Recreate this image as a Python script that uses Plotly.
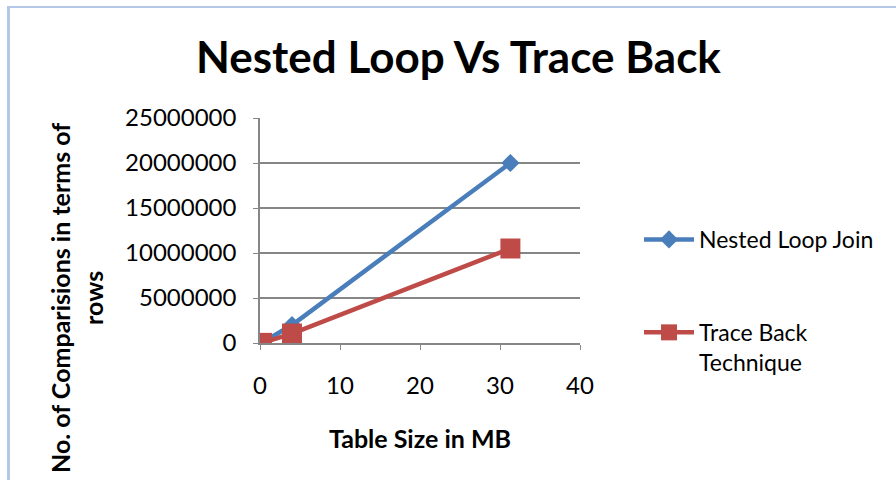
import plotly.graph_objects as go

table_size_mb = [0.25, 4, 31.3]
nested_loop = [30000, 2000000, 20000000]
trace_back = [15000, 1050000, 10500000]

x_ticks = [0, 10, 20, 30, 40]
y_ticks = [0, 5000000, 10000000, 15000000, 20000000, 25000000]
y_tick_labels = ["0", "5000000", "10000000", "15000000", "20000000", "25000000"]

FONT = "Lato"
GRID = "#868686"

fig = go.Figure()
fig.add_trace(go.Scatter(
    x=table_size_mb, y=nested_loop, name="Nested Loop Join",
    mode="lines+markers", legendgroup="a",
    line=dict(color="#4a7ebb", width=4.5),
    marker=dict(symbol="diamond", size=14, color="#4a7ebb"),
))
fig.add_trace(go.Scatter(
    x=table_size_mb, y=trace_back, name="Trace Back<br>Technique",
    mode="lines+markers", legendgroup="b",
    line=dict(color="#be4b48", width=4.5),
    marker=dict(symbol="square", size=20, color="#be4b48"),
))

fig.update_layout(
    width=896, height=480,
    margin=dict(l=260, r=316, t=118, b=137),
    paper_bgcolor="white", plot_bgcolor="white",
    font=dict(family=FONT, color="black", size=24),
    title=dict(text="<b>Nested Loop Vs Trace Back</b>", x=0.5117, xanchor="center",
               y=0.88, yanchor="middle", font=dict(size=44, family=FONT)),
    xaxis=dict(range=[0, 40], tickvals=x_ticks, showgrid=False,
               showline=True, linecolor=GRID, linewidth=1.5,
               ticks="outside", ticklen=5, tickcolor=GRID, zeroline=False,
               ticklabelstandoff=15,
               title=dict(text="<b>Table Size in MB</b>", font=dict(size=25), standoff=33)),
    yaxis=dict(range=[0, 25000000], tickvals=y_ticks, ticktext=y_tick_labels,
               showgrid=True, gridcolor=GRID, gridwidth=1.5,
               showline=True, linecolor=GRID, linewidth=1.5,
               ticks="outside", ticklen=5, tickcolor=GRID, zeroline=False,
               ticklabelstandoff=12),
    legend=dict(x=(639 - 260) / 320, y=(343 - 218) / 225, xanchor="left", yanchor="top",
                font=dict(size=23), tracegroupgap=60, itemwidth=50, valign="top",
                bgcolor="rgba(0,0,0,0)"),
    showlegend=True,
    annotations=[
        dict(text="<b>No. of Comparisions in terms of<br>rows</b>", textangle=-90,
             xref="paper", yref="paper", x=(76 - 260) / 320, y=(343 - 298) / 225,
             xanchor="center", yanchor="middle", showarrow=False,
             font=dict(size=25, family=FONT)),
    ],
    shapes=[
        dict(type="line", xref="paper", yref="paper",
             x0=(7 - 260) / 320, x1=(900 - 260) / 320, y0=(343 - 7) / 225, y1=(343 - 7) / 225,
             line=dict(color="#b4c7e7", width=2)),
        dict(type="line", xref="paper", yref="paper",
             x0=(8.5 - 260) / 320, x1=(8.5 - 260) / 320, y0=(343 - 6) / 225, y1=(343 - 485) / 225,
             line=dict(color="#b4c7e7", width=3)),
    ],
)

fig.write_html("out.html", config={"displayModeBar": False},
               post_script="document.body.style.margin='0';")
